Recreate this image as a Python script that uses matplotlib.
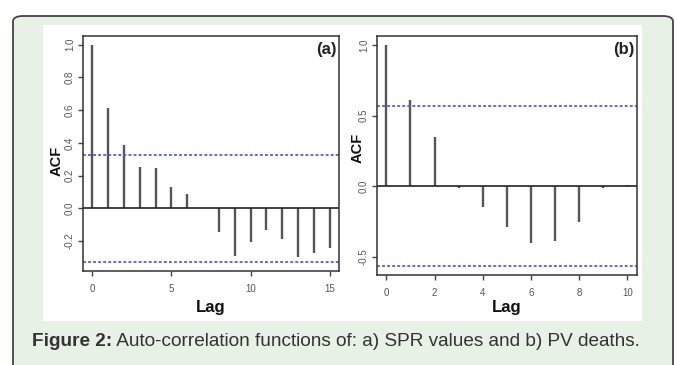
import matplotlib
matplotlib.use("Agg")
import matplotlib.pyplot as plt
from matplotlib.patches import FancyBboxPatch, Rectangle

plt.rcParams['font.family'] = ['Liberation Sans', 'DejaVu Sans']

# ACF values
lags_a = list(range(0, 16))
acf_a = [1.0, 0.615, 0.385, 0.25, 0.245, 0.13, 0.088, 0.0,
         -0.144, -0.293, -0.205, -0.133, -0.19, -0.298, -0.27, -0.24]
ci_a = 0.328

lags_b = list(range(0, 11))
acf_b = [1.0, 0.612, 0.345, -0.01, -0.148, -0.286, -0.405, -0.388,
         -0.255, -0.01, 0.01]
ci_b = 0.566

caption_bold = "Figure 2:"
caption_rest = " Auto-correlation functions of: a) SPR values and b) PV deaths."

W, H = 677, 365
fig = plt.figure(figsize=(W / 100, H / 100), dpi=100)
fig.patch.set_facecolor('white')

# rounded green box and white picture area
box = FancyBboxPatch((13 / W, -20 / H), 660 / W, 349 / H + 20 / H,
                     boxstyle="round,pad=0,rounding_size=0.015",
                     transform=fig.transFigure, facecolor='#e8f1e5',
                     edgecolor='#444444', linewidth=1.3, zorder=-3)
fig.patches.append(box)
fig.patches.append(Rectangle((43 / W, 1 - 321 / H), 599 / W, 296 / H,
                             transform=fig.transFigure, facecolor='white',
                             edgecolor='none', zorder=-2))


def acf_panel(rect, lags, acf, ci, xlim, ylim, xticks, yticks, ylabels, tag,
              acf_xy, lag_y):
    ax = fig.add_axes(rect)
    ax.set_facecolor('white')
    ax.vlines(lags, 0, acf, color='#555555', linewidth=1.7)
    ax.axhline(0, color='#222222', linewidth=1.2)
    for c in (ci, -ci):
        ax.axhline(c, color='#5a5ae6', linewidth=1.3, linestyle=(0, (1.6, 1.2)))
    ax.set_xlim(*xlim)
    ax.set_ylim(*ylim)
    ax.set_xticks(xticks)
    ax.set_yticks(yticks)
    ax.set_yticklabels(ylabels, rotation=90, va='center')
    ax.tick_params(length=3.5, width=1, color='#444444', labelsize=7,
                   labelcolor='#555555')
    ax.tick_params(axis='x', pad=6)
    ax.tick_params(axis='y', pad=2)
    for s in ax.spines.values():
        s.set_color('#333333')
        s.set_linewidth(1.1)
    ax.text(0.5, lag_y, 'Lag', transform=ax.transAxes, ha='center',
            va='baseline', fontsize=12, fontweight='bold', color='#111111')
    ax.text(acf_xy[0], acf_xy[1], 'ACF', transform=ax.transAxes, ha='center',
            va='center', rotation=90, fontsize=10.5, fontweight='bold',
            color='#111111')
    ax.text(0.99, 0.975, tag, transform=ax.transAxes, ha='right', va='top',
            fontsize=12, fontweight='bold', color='#222222')
    return ax


acf_panel([82.7 / W, 1 - 271 / H, 256.6 / W, 235 / H], lags_a, acf_a, ci_a,
          (-0.6, 15.6), (-0.383, 1.053), [0, 5, 10, 15],
          [-0.2, 0.0, 0.2, 0.4, 0.6, 0.8, 1.0],
          ['-0.2', '0.0', '0.2', '0.4', '0.6', '0.8', '1.0'], '(a)',
          (-0.102, 0.468), -0.1745)
acf_panel([376.7 / W, 1 - 275 / H, 260.3 / W, 239 / H], lags_b, acf_b, ci_b,
          (-0.4, 10.4), (-0.629, 1.063), [0, 2, 4, 6, 8, 10],
          [-0.5, 0.0, 0.5, 1.0], ['-0.5', '0.0', '0.5', '1.0'], '(b)',
          (-0.072, 0.53), -0.155)

t1 = fig.text(32 / W, 1 - 346 / H, caption_bold, fontsize=13.7,
              fontweight='bold', color='#333333', va='baseline')
fig.canvas.draw()
bb = t1.get_window_extent()
fig.text(bb.x1 / W, 1 - 346 / H, caption_rest, fontsize=13.7,
         color='#333333', va='baseline')

fig.savefig('out.png', dpi=100)
